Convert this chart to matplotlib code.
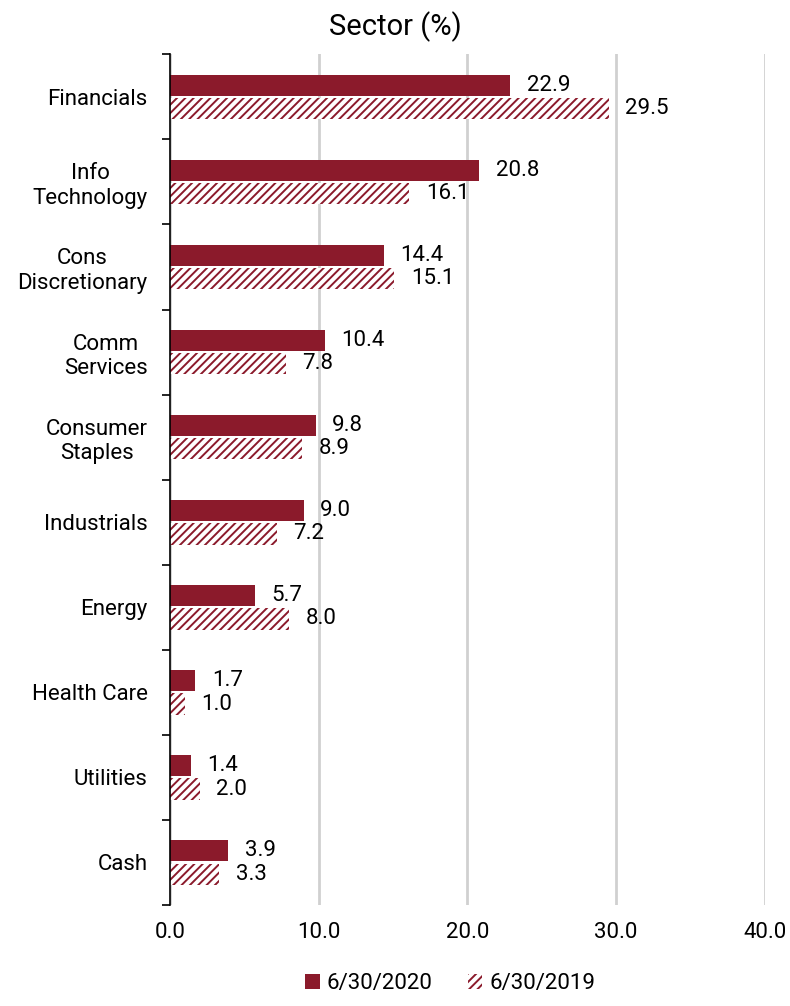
import matplotlib
matplotlib.use("Agg")
import matplotlib.pyplot as plt
import numpy as np

plt.rcParams['font.family'] = ['Roboto', 'DejaVu Sans']
plt.rcParams['hatch.linewidth'] = 1.4
plt.rcParams['hatch.color'] = '#8B1A2B'

sectors = ["Financials", "Info\nTechnology", "Cons\nDiscretionary", "Comm\nServices",
           "Consumer\nStaples", "Industrials", "Energy", "Health Care", "Utilities", "Cash"]
values_2020 = [22.9, 20.8, 14.4, 10.4, 9.8, 9.0, 5.7, 1.7, 1.4, 3.9]
values_2019 = [29.5, 16.1, 15.1, 7.8, 8.9, 7.2, 8.0, 1.0, 2.0, 3.3]
x_ticks = [0, 10, 20, 30, 40]

red = '#8B1A2B'
fs = 16

fig = plt.figure(figsize=(7.9, 10.06), dpi=100)
ax = fig.add_axes([0.215, 0.1004, 0.753, 0.8456])

n = len(sectors)
pos = np.arange(n)
h = 0.25
gap = 0.025
b1 = ax.barh(pos - h / 2 - gap / 2, values_2020, height=h, color=red, label='6/30/2020')
b2 = ax.barh(pos + h / 2 + gap / 2, values_2019, height=h, color='white', edgecolor=red,
             linewidth=0, hatch='////', label='6/30/2019')

for y, v in zip(pos - h / 2 - gap / 2, values_2020):
    ax.annotate(f"{v:.1f}", (v, y), xytext=(12, 0), textcoords='offset points',
                va='center', ha='left', fontsize=fs)
for y, v in zip(pos + h / 2 + gap / 2, values_2019):
    ax.annotate(f"{v:.1f}", (v, y), xytext=(12, 0), textcoords='offset points',
                va='center', ha='left', fontsize=fs)

ax.set_ylim(n - 0.5, -0.5)
ax.set_xlim(0, 40)
ax.set_xticks(x_ticks)
ax.set_xticklabels([f"{t:.1f}" for t in x_ticks], fontsize=fs)
ax.tick_params(axis='x', length=0, pad=12)

ax.set_yticks(pos)
ax.set_yticklabels(sectors, fontsize=fs, ha='right', multialignment='center')
ax.tick_params(axis='y', which='major', length=0, pad=16)
ax.set_yticks(np.arange(-0.5, n, 1), minor=True)
ax.tick_params(axis='y', which='minor', length=6, width=1.2, direction='out', color='black')

for s in ['top', 'right', 'bottom']:
    ax.spines[s].set_visible(False)
ax.spines['left'].set_linewidth(1.2)

ax.grid(axis='x', color='#d0d0d0', linewidth=2)
ax.set_axisbelow(True)

fig.suptitle("Sector (%)", fontsize=21, x=0.5, y=0.989, va='top')

fig.legend(handles=[b1, b2], loc='lower center', bbox_to_anchor=(0.57, -0.008), ncol=2,
           frameon=False, fontsize=fs, handlelength=0.65, handleheight=0.65,
           handletextpad=0.3, columnspacing=1.6)

fig.savefig("out.png", dpi=100)
